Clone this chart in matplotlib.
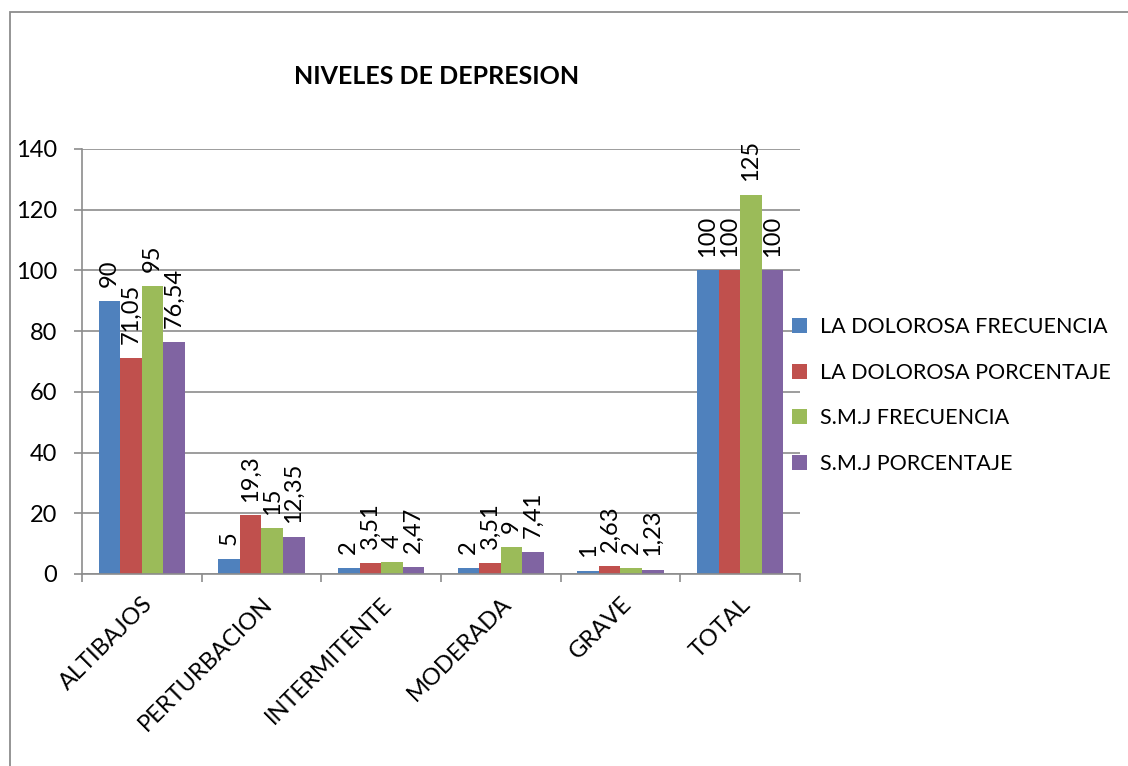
import matplotlib.pyplot as plt
import numpy as np
from matplotlib.patches import Rectangle

plt.rcParams['font.family'] = ['Lato', 'DejaVu Sans']

categorias = ['ALTIBAJOS', 'PERTURBACION', 'INTERMITENTE', 'MODERADA', 'GRAVE', 'TOTAL']
series = ['LA DOLOROSA FRECUENCIA', 'LA DOLOROSA PORCENTAJE', 'S.M.J FRECUENCIA', 'S.M.J PORCENTAJE']
dolorosa_frec = [90, 5, 2, 2, 1, 100]
dolorosa_porc = [71.05, 19.3, 3.51, 3.51, 2.63, 100]
smj_frec = [95, 15, 4, 9, 2, 125]
smj_porc = [76.54, 12.35, 2.47, 7.41, 1.23, 100]
colores = ['#4F81BD', '#C0504D', '#9BBB59', '#8064A2']

fig = plt.figure(figsize=(11.28, 7.66), dpi=100)
fig.patches.append(Rectangle((10 / 1128, -0.1), 1.2, 1.1 - 12 / 766, transform=fig.transFigure,
                             fill=False, edgecolor='#8c8c8c', linewidth=1.3))
ax = fig.add_axes([82 / 1128, 1 - 574 / 766, (800 - 82) / 1128, (574 - 149) / 766])

x = np.arange(len(categorias))
w = 0.18
datos = [dolorosa_frec, dolorosa_porc, smj_frec, smj_porc]


def fmt(v):
    return ('%g' % v).replace('.', ',')


for i, (vals, nombre, c) in enumerate(zip(datos, series, colores)):
    pos = x + (i - 1.5) * w
    ax.bar(pos, vals, width=w, color=c, label=nombre, zorder=2)
    for p, v in zip(pos, vals):
        ax.annotate(fmt(v), (p, v), xytext=(0, 10), textcoords='offset points',
                    rotation=90, ha='center', va='bottom', fontsize=17)

ax.set_xlim(-0.5, len(categorias) - 0.5)
ax.set_ylim(0, 140)
ax.set_yticks(range(0, 141, 20))
ax.yaxis.grid(True, color='#8c8c8c', linewidth=1.2, zorder=0)
ax.set_axisbelow(True)
ax.tick_params(axis='y', labelsize=17, length=6, width=1.2, color='#8c8c8c', pad=12)
ax.set_xticks(x)
ax.set_xticklabels(categorias, rotation=45, ha='right', va='top', rotation_mode='anchor', fontsize=17)
ax.tick_params(axis='x', which='major', length=0, pad=14)
ax.set_xticks(np.arange(-0.5, len(categorias), 1), minor=True)
ax.tick_params(axis='x', which='minor', length=6, width=1.2, color='#8c8c8c')
for s in ['top', 'right']:
    ax.spines[s].set_visible(False)
for s in ['left', 'bottom']:
    ax.spines[s].set_color('#8c8c8c')
    ax.spines[s].set_linewidth(1.2)

fig.text(437 / 1128, 1 - 77 / 766, 'NIVELES DE DEPRESION', ha='center', va='center',
         fontsize=18, fontweight='bold')

ax.legend(loc='center left', bbox_to_anchor=(0.962, 0.42), frameon=False, fontsize=15.5,
          handlelength=0.7, handleheight=0.7, labelspacing=1.2, handletextpad=0.6)

fig.savefig('out.png', dpi=100)
